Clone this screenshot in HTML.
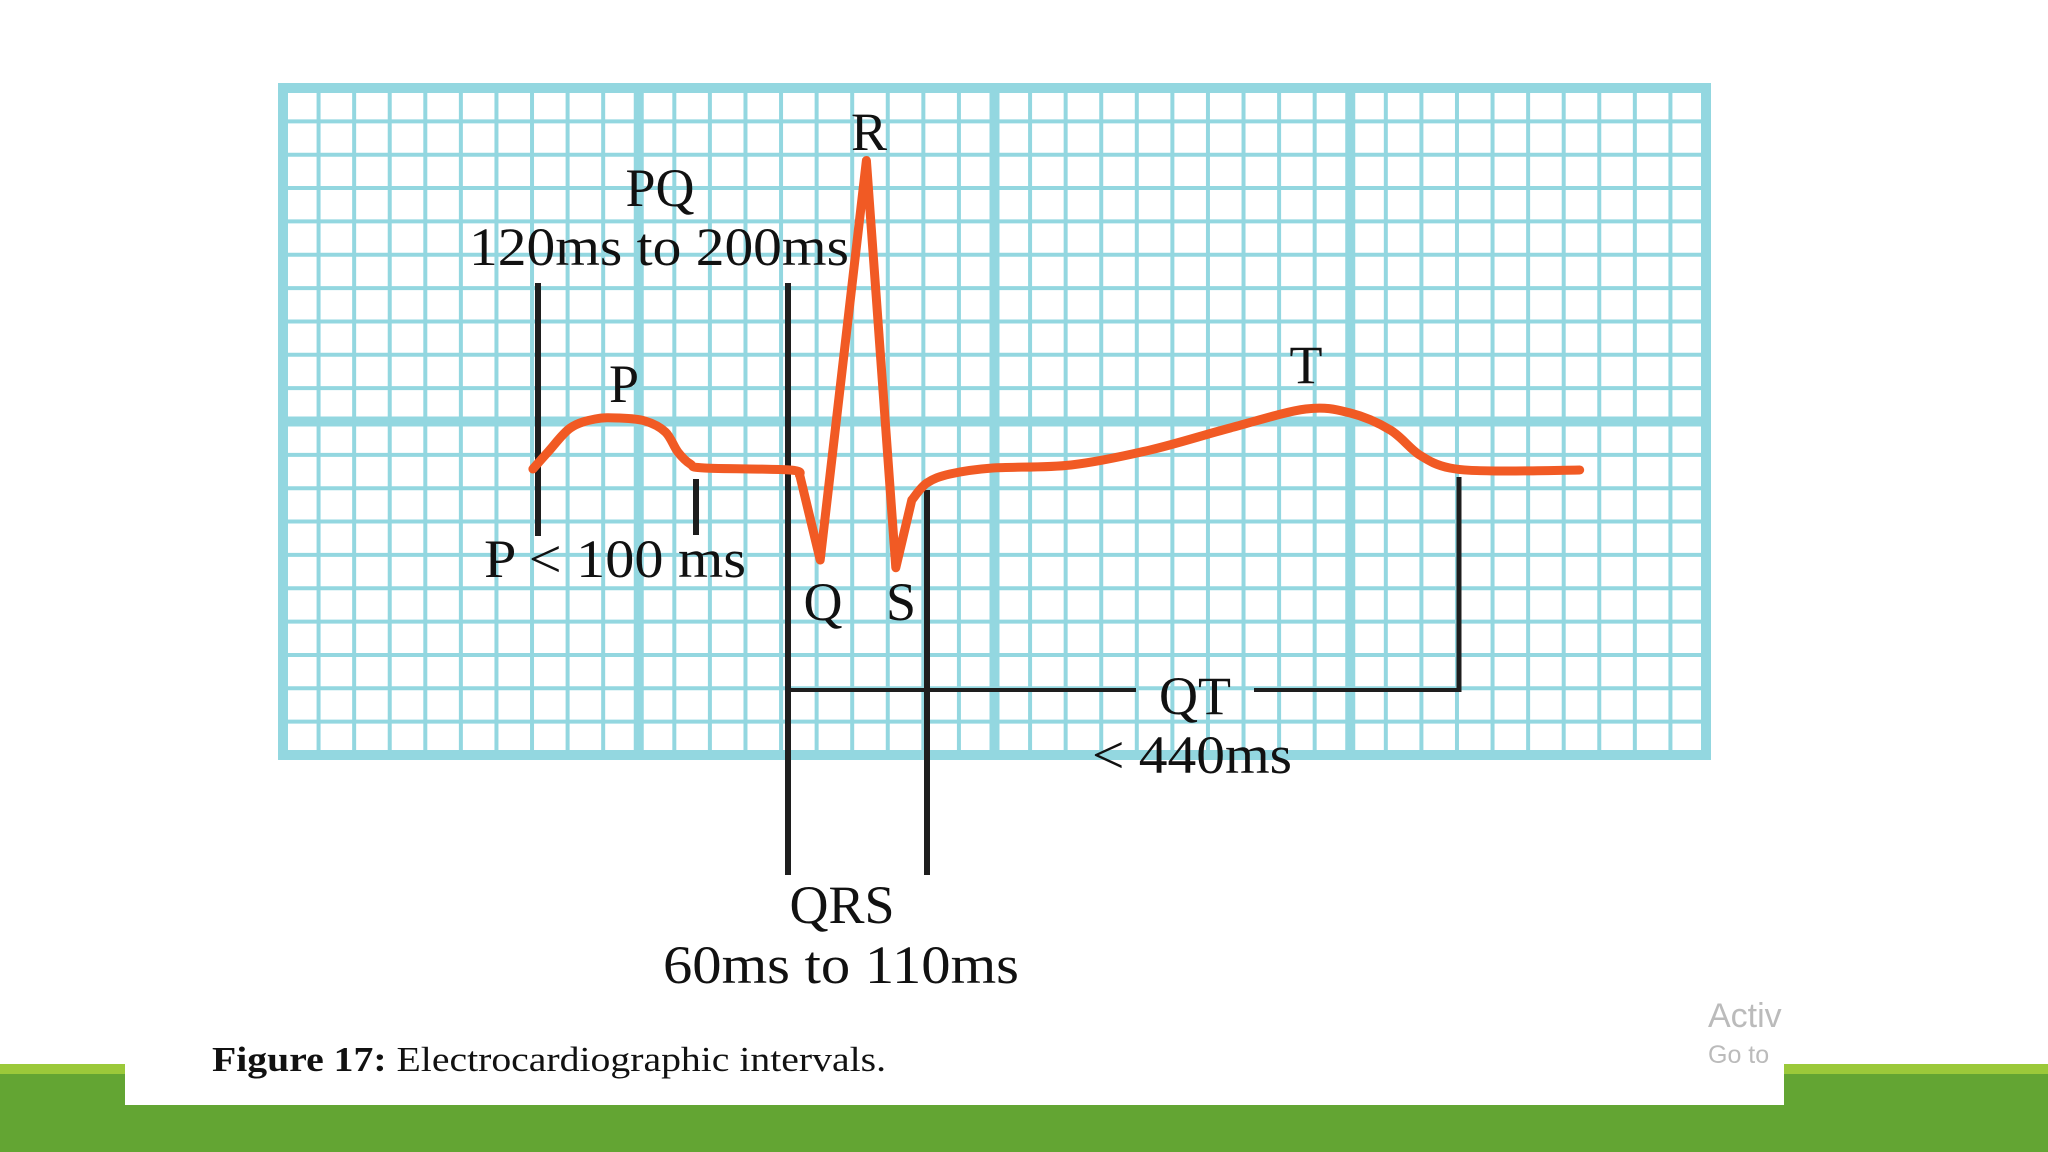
<!DOCTYPE html>
<html><head><meta charset="utf-8"><style>
body{margin:0;width:2048px;height:1152px;overflow:hidden;background:#fff;position:relative;font-family:"Liberation Serif",serif}
</style></head><body>
<div style="position:absolute;left:0;top:1064px;width:2048px;height:10px;background:#9bc93a"></div>
<div style="position:absolute;left:0;top:1074px;width:2048px;height:78px;background:#63a533"></div>
<div style="position:absolute;left:125px;top:960px;width:1659px;height:145px;background:#fff"></div>
<svg id="c" width="2048" height="1152" style="position:absolute;left:0;top:0">
<g id="grid"></g>
<g id="marks"></g>
<path id="trace" fill="none" stroke="#f15a24" stroke-width="9" stroke-linejoin="round" stroke-linecap="round"/>
<g font-family="Liberation Serif, serif" font-size="54" fill="#111" text-anchor="middle">
<text x="869" y="150">R</text>
<text x="660" y="206">PQ</text>
<text x="659" y="265" textLength="380" lengthAdjust="spacingAndGlyphs">120ms to 200ms</text>
<text x="624" y="402">P</text>
<text x="1306" y="383">T</text>
<text x="615" y="577" textLength="262" lengthAdjust="spacingAndGlyphs">P &lt; 100 ms</text>
<text x="823" y="620">Q</text>
<text x="901" y="620">S</text>
<text x="1195" y="714">QT</text>
<text x="1192" y="773" textLength="200" lengthAdjust="spacingAndGlyphs">&lt; 440ms</text>
<text x="842" y="923">QRS</text>
<text x="841" y="983" textLength="356" lengthAdjust="spacingAndGlyphs">60ms to 110ms</text>
</g>
<text x="212" y="1071" font-family="Liberation Serif, serif" font-size="35" fill="#111" textLength="674" lengthAdjust="spacingAndGlyphs"><tspan font-weight="bold">Figure 17:</tspan> Electrocardiographic intervals.</text>
<text x="1708" y="1027" font-family="Liberation Sans, sans-serif" font-size="34" fill="#bbb">Activ</text>
<text x="1708" y="1063" font-family="Liberation Sans, sans-serif" font-size="25" fill="#bbb">Go to</text>
</svg>
<div style="position:absolute;left:1784px;top:990px;width:120px;height:74px;background:#fff"></div>
<script>
const times=[281,298,323,351,377,407,430,444,458,474,570,581,604,656,689,707,724,750,798,886,975,1065,1150,1200,1245,1278,1312,1368,1458];
const volts=[0.003,0.054,0.126,0.153,0.156,0.147,0.114,0.054,0.018,0.006,0,-0.015,-0.27,0.928,-0.293,-0.09,-0.039,-0.012,0.006,0.015,0.06,0.126,0.183,0.171,0.12,0.045,0.006,-0.003,0];
const sharp=[12,13,14];
const X0=283,X1=1706,Y0=88,Y1=755;
const cw=(X1-X0)/40, ch=(Y1-Y0)/20;
function xs(t){return X0+t/40*cw;}
function ys(v){return 470-v/0.1*ch;}
const ns='http://www.w3.org/2000/svg';
const g=document.getElementById('grid');
function ln(parent,x1,y1,x2,y2,col,w,name){const l=document.createElementNS(ns,'line');l.setAttribute('x1',x1);l.setAttribute('y1',y1);l.setAttribute('x2',x2);l.setAttribute('y2',y2);l.setAttribute('stroke',col);l.setAttribute('stroke-width',w);


parent.appendChild(l);}
for(let i=0;i<=40;i++){const x=X0+i*cw;const major=i%10==0;ln(g,x,Y0,x,Y1,'#93d7e0',major?10:4,major?'major-grid-line':'minor-grid-line');}
for(let j=0;j<=20;j++){const y=Y0+j*ch;const major=j%10==0;ln(g,X0-5,y,X1+5,y,'#93d7e0',major?10:4,major?'major-grid-line':'minor-grid-line');}
const m=document.getElementById('marks');
const K='#1e1e1e';
ln(m,538,283,538,536,K,6,'pq-start-line');
ln(m,788,283,788,875,K,6,'pq-end-qrs-start-line');
ln(m,696,479,696,535,K,6,'p-end-line');
ln(m,927,490,927,875,K,6,'qrs-end-line');
ln(m,790,690,1136,690,K,4,'qt-line-left');
ln(m,1254,690,1461,690,K,4,'qt-line-right');
ln(m,1459,477,1459,692,K,5,'qt-end-line');
const P=times.map((t,i)=>[xs(t),ys(volts[i])]);
let d='M'+P[0][0].toFixed(1)+','+P[0][1].toFixed(1);
for(let i=0;i<P.length-1;i++){
  const p1=P[i],p2=P[i+1];
  if(sharp.includes(i)||sharp.includes(i+1)){d+=' L'+p2[0].toFixed(1)+','+p2[1].toFixed(1);continue;}
  const p0=(i>0&&!sharp.includes(i-1))?P[i-1]:p1, p3=(i+2<P.length&&!sharp.includes(i+2))?P[i+2]:p2;
  const c1=[p1[0]+(p2[0]-p0[0])/6,p1[1]+(p2[1]-p0[1])/6];
  const c2=[p2[0]-(p3[0]-p1[0])/6,p2[1]-(p3[1]-p1[1])/6];
  d+=' C'+c1[0].toFixed(1)+','+c1[1].toFixed(1)+' '+c2[0].toFixed(1)+','+c2[1].toFixed(1)+' '+p2[0].toFixed(1)+','+p2[1].toFixed(1);
}
document.getElementById('trace').setAttribute('d',d);
</script>
</body></html>
